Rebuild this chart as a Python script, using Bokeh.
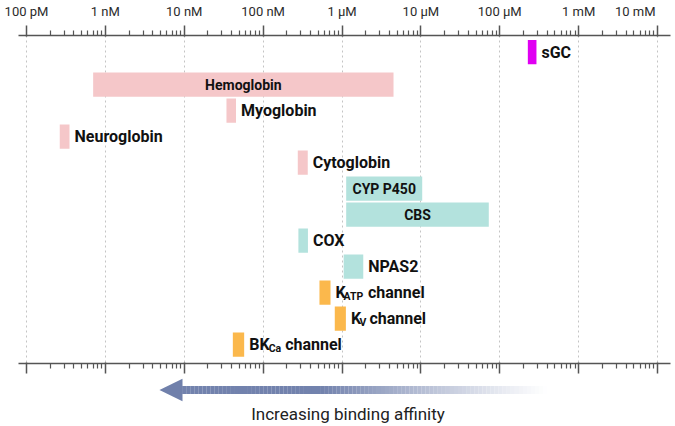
import numpy as np
from bokeh.plotting import figure
from bokeh.models import (Range1d, FixedTicker, LogAxis, CustomJSTickFormatter,
                          ColumnDataSource)
from bokeh.layouts import column
from bokeh.core.properties import value
from bokeh.embed import file_html
from bokeh.resources import INLINE

# ---------------- data ----------------
tick_exponents = [-10, -9, -8, -7, -6, -5, -4, -3, -2]
tick_labels = ["100 pM", "1 nM", "10 nM", "100 nM", "1 µM", "10 µM", "100 µM", "1 mM", "10 mM"]

names = ["sGC", "Hemoglobin", "Myoglobin", "Neuroglobin", "Cytoglobin", "CYP P450",
         "CBS", "COX", "NPAS2", "KATP channel", "Kv channel", "BKCa channel"]
groups = ["sgc", "globin", "globin", "globin", "globin", "enzyme",
          "enzyme", "enzyme", "enzyme", "channel", "channel", "channel"]
rows = [-0.25, 1, 2, 3, 4, 5, 6, 7, 8, 9, 10, 11]
kd_low = [2.27e-4, 7.0e-10, 3.43e-8, 2.64e-10, 2.75e-7, 1.13e-6,
          1.13e-6, 2.8e-7, 1.05e-6, 5.18e-7, 8.1e-7, 4.13e-8]
kd_high = [2.92e-4, 4.5e-6, 4.53e-8, 3.51e-10, 3.68e-7, 1.04e-5,
           7.26e-5, 3.7e-7, 1.86e-6, 7.15e-7, 1.12e-6, 5.75e-8]
label_main = ["sGC", "Hemoglobin", "Myoglobin", "Neuroglobin", "Cytoglobin", "CYP P450",
              "CBS", "COX", "NPAS2", "K", "K", "BK"]
label_sub = ["", "", "", "", "", "", "", "", "", "ATP", "V", "Ca"]
label_tail = ["", "", "", "", "", "", "", "", "", "channel", "channel", "channel"]

arrow_text = "Increasing binding affinity"
arrow_tip = 4.85e-9
arrow_head_base = 9.4e-9
arrow_tail = 4.0e-4
arrow_text_x = 1.19e-6

# ---------------- styles ----------------
COLORS = {"sgc": "#e000f2", "globin": "#f5c7c9", "enzyme": "#b3e2dd", "channel": "#fbb84c"}
INSIDE = {"Hemoglobin", "CYP P450", "CBS"}
SUB_OFFSETS = {"KATP channel": (13, 37.5), "Kv channel": (13.5, 23.5), "BKCa channel": (24.5, 41)}
LAST_LABEL_PAD = "\u2003\u2002"   # keeps the right-most tick label inside the page
FONT = "Roboto"
AX_COLOR = "#555555"

# pixel layout (window coordinates)
PX_DEC = 78.875        # pixels per decade
TICK0 = 26.0           # window x of 1e-10
W = 675
H1, H2 = 376, 50
ML, MR, MT, MB = 18, 5, 32, 13
ROW_PX = 26.25
ROW0_Y = 55.25         # window y of row 0


def logx(win_x):
    return 10 ** (tick_exponents[0] + (win_x - TICK0) / PX_DEC)


def row_at(win_y):
    return (win_y - ROW0_Y) / ROW_PX


# ---------------- main chart ----------------
frame_top = MT
frame_bottom = H1 - MB

p = figure(width=W, height=H1, x_axis_type="log",
           x_range=Range1d(logx(ML), logx(W - MR)),
           y_range=Range1d(row_at(frame_bottom), row_at(frame_top)),
           output_backend="svg", toolbar_location=None, y_axis_location=None,
           min_border_left=ML, min_border_right=MR, min_border_top=MT, min_border_bottom=MB)
p.outline_line_color = None
p.background_fill_color = "white"
p.border_fill_color = "white"

majors = [10.0 ** e for e in tick_exponents]
minors = [m * 10.0 ** e for e in tick_exponents[:-1] for m in range(2, 10)]
ticker = FixedTicker(ticks=majors, minor_ticks=minors)

shown_labels = tick_labels[:-1] + [tick_labels[-1] + LAST_LABEL_PAD]

bottom_axis = p.below[0]
top_axis = LogAxis()
p.add_layout(top_axis, "above")
for ax in [top_axis, bottom_axis]:
    ax.ticker = ticker
    ax.axis_line_color = AX_COLOR
    ax.axis_line_width = 1.5
    ax.major_tick_line_color = AX_COLOR
    ax.major_tick_line_width = 1.5
    ax.minor_tick_line_color = AX_COLOR
    ax.minor_tick_line_width = 1.2
    ax.major_tick_out = 10
    ax.major_tick_in = 1
    ax.minor_tick_out = 5
    ax.minor_tick_in = 0

top_axis.formatter = CustomJSTickFormatter(
    args=dict(exps=tick_exponents, labels=shown_labels),
    code="const e = Math.round(Math.log10(tick)); const i = exps.indexOf(e); "
         "return i >= 0 ? labels[i] : '';")
top_axis.major_label_text_font = FONT
top_axis.major_label_text_font_size = "13px"
top_axis.major_label_text_color = "#2b2b2b"
top_axis.major_label_standoff = 7

bottom_axis.formatter = CustomJSTickFormatter(code="return ''")
bottom_axis.major_label_text_font_size = "0px"
bottom_axis.major_label_standoff = 0

p.xgrid.ticker = ticker
p.xgrid.grid_line_color = "#c4c4c4"
p.xgrid.grid_line_dash = "2 3"
p.xgrid.grid_line_width = 1
p.ygrid.visible = False

# bars
HALF = 0.465
src = ColumnDataSource(dict(
    left=kd_low, right=kd_high,
    top=[r - HALF for r in rows], bottom=[r + HALF for r in rows],
    color=[COLORS[g] for g in groups]))
p.quad(left="left", right="right", top="top", bottom="bottom",
       fill_color="color", line_color=None, source=src)

# labels outside
out_idx = [i for i, n in enumerate(names) if n not in INSIDE]
p.text(x=[kd_high[i] for i in out_idx], y=[rows[i] for i in out_idx],
       text=[label_main[i] for i in out_idx], x_offset=5, y_offset=0,
       text_align="left", text_baseline="middle", text_font=value(FONT),
       text_font_style="bold", text_font_size="16px", text_color="#111111")

# labels inside bars
in_idx = [i for i, n in enumerate(names) if n in INSIDE]
p.text(x=[float(np.sqrt(kd_low[i] * kd_high[i])) for i in in_idx],
       y=[rows[i] for i in in_idx], text=[label_main[i] for i in in_idx],
       y_offset=0, text_align="center", text_baseline="middle",
       text_font=value(FONT), text_font_style="bold", text_font_size="14px",
       text_color="#111111")

# subscripts and tails of channel labels
sub_idx = [i for i, s in enumerate(label_sub) if s]
p.text(x=[kd_high[i] for i in sub_idx], y=[rows[i] for i in sub_idx],
       text=[label_sub[i] for i in sub_idx],
       x_offset=[SUB_OFFSETS[names[i]][0] for i in sub_idx], y_offset=3.5,
       text_align="left", text_baseline="middle", text_font=value(FONT),
       text_font_style="bold", text_font_size="10.5px", text_color="#111111")
p.text(x=[kd_high[i] for i in sub_idx], y=[rows[i] for i in sub_idx],
       text=[label_tail[i] for i in sub_idx],
       x_offset=[SUB_OFFSETS[names[i]][1] for i in sub_idx], y_offset=0,
       text_align="left", text_baseline="middle", text_font=value(FONT),
       text_font_style="bold", text_font_size="16px", text_color="#111111")

# ---------------- arrow strip ----------------
p2 = figure(width=W, height=H2, x_axis_type="log",
            x_range=Range1d(logx(ML), logx(W - MR)),
            y_range=Range1d(-36.5, 13.5), output_backend="svg", toolbar_location=None,
            x_axis_location=None, y_axis_location=None,
            min_border_left=ML, min_border_right=MR,
            min_border_top=0, min_border_bottom=0)
p2.outline_line_color = None
p2.grid.visible = False

base_rgb = np.array([0x72, 0x82, 0xad], dtype=float)
N = 90
edges = np.logspace(np.log10(arrow_head_base), np.log10(arrow_tail), N + 1)
t = (np.arange(N) + 0.5) / N
alpha = np.clip((1.0 - t) / 0.62, 0.0, 1.0) ** 1.1
cols = []
for a in alpha:
    c = base_rgb * a + 255 * (1 - a)
    cols.append("#%02x%02x%02x" % tuple(int(round(v)) for v in c))
p2.quad(left=edges[:-1], right=edges[1:] * 1.003, top=4, bottom=-4,
        fill_color=cols, line_color=None)
p2.patch(x=[arrow_tip, arrow_head_base * 1.01, arrow_head_base * 1.01],
         y=[0, 11.3, -11.3], fill_color="#7080ab", line_color=None)

p2.text(x=[arrow_text_x], y=[-24], text=[arrow_text], text_align="center",
        text_baseline="middle", text_font=value(FONT), text_font_size="17px",
        text_color="#222222")

layout = column(p, p2, spacing=0)
open("out.html", "w").write(file_html(layout, INLINE))
